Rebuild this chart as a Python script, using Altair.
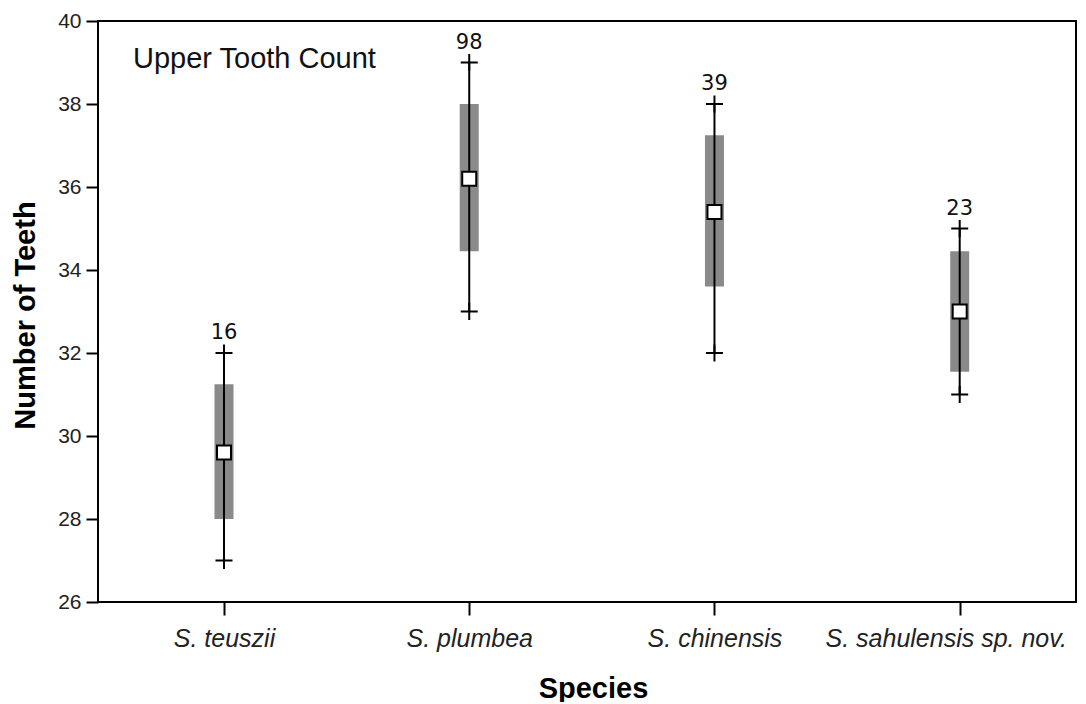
import altair as alt
import pandas as pd

species = ["S. teuszii", "S. plumbea", "S. chinensis", "S. sahulensis sp. nov."]
n_count = [16, 98, 39, 23]
means = [29.6, 36.2, 35.4, 33.0]
sd_low = [28.0, 34.45, 33.6, 31.55]
sd_high = [31.25, 38.0, 37.25, 34.45]
mins = [27, 33, 32, 31]
maxs = [32, 39, 38, 35]
y_ticks = [26, 28, 30, 32, 34, 36, 38, 40]

df = pd.DataFrame({
    "species": species, "n": n_count, "mean": means,
    "lo": sd_low, "hi": sd_high, "min": mins, "max": maxs,
})

PLOT_H = 581

xenc = alt.X(
    "species:N", sort=species,
    scale=alt.Scale(type="point", padding=0.494, align=0.52),
    axis=alt.Axis(
        title="Species", labelAngle=0, labelFont="Liberation Sans", labelFontStyle="italic",
        labelFontSize=25, labelColor="#222222", labelPadding=11, labelLimit=0,
        labelOffset={"condition": {"test": "datum.value == 'S. sahulensis sp. nov.'", "value": -14},
                     "value": 0},
        tickSize=13, tickWidth=2, tickColor="black", domain=False,
        titleFont="Liberation Sans", titleFontSize=29, titleFontWeight="bold",
        titleX=495, titleY=86, titleBaseline="middle", titleColor="black",
    ),
)

yscale = alt.Scale(domain=[26, 40], nice=False, zero=False)
yaxis = alt.Axis(
    title="Number of Teeth", values=y_ticks, labelFont="Liberation Sans", labelFontSize=21,
    labelColor="#222222", labelPadding=5, tickSize=12, tickWidth=2, tickColor="black",
    domain=False, grid=False, titleFont="Liberation Sans", titleFontSize=29,
    titleFontWeight="bold", titleX=-73, titleY=294, titleAngle=-90, titleAlign="center",
    titleBaseline="middle", titleColor="black",
)

base = alt.Chart(df)

bars = base.mark_bar(size=19, color="#8a8a8a").encode(
    x=xenc, y=alt.Y("lo:Q", scale=yscale, axis=yaxis), y2="hi:Q"
)
rules = base.mark_rule(color="black", strokeWidth=2).encode(
    x=alt.X("species:N", sort=species), y="min:Q", y2="max:Q"
)
cross_path = "M-1,0L1,0M0,-1L0,1"
cross_min = base.mark_point(shape=cross_path, size=289, filled=False, stroke="black",
                            strokeWidth=2, opacity=1).encode(
    x=alt.X("species:N", sort=species), y="min:Q"
)
cross_max = base.mark_point(shape=cross_path, size=289, filled=False, stroke="black",
                            strokeWidth=2, opacity=1).encode(
    x=alt.X("species:N", sort=species), y="max:Q"
)
squares = base.mark_point(shape="square", size=196, filled=True, fill="white",
                          stroke="black", strokeWidth=2, opacity=1).encode(
    x=alt.X("species:N", sort=species), y="mean:Q"
)
labels = base.mark_text(font="DejaVu Sans", fontSize=21, dy=-14, baseline="alphabetic",
                        align="center", color="#111111").encode(
    x=alt.X("species:N", sort=species), y="max:Q", text="n:Q"
)
annot = alt.Chart(pd.DataFrame({"t": ["Upper Tooth Count"]})).mark_text(
    font="Liberation Sans", fontSize=29, align="left", baseline="alphabetic", color="#111111"
).encode(x=alt.value(35), y=alt.value(47), text="t:N")

chart = alt.layer(bars, rules, cross_min, cross_max, squares, labels, annot).properties(
    width=978, height=PLOT_H,
    autosize=alt.AutoSizeParams(type="none"),
    padding={"left": 90, "top": 13, "right": 2, "bottom": 100},
    background="white",
).configure_view(stroke="black", strokeWidth=2)

chart.save("out.html", embed_options={"renderer": "svg", "actions": False})
